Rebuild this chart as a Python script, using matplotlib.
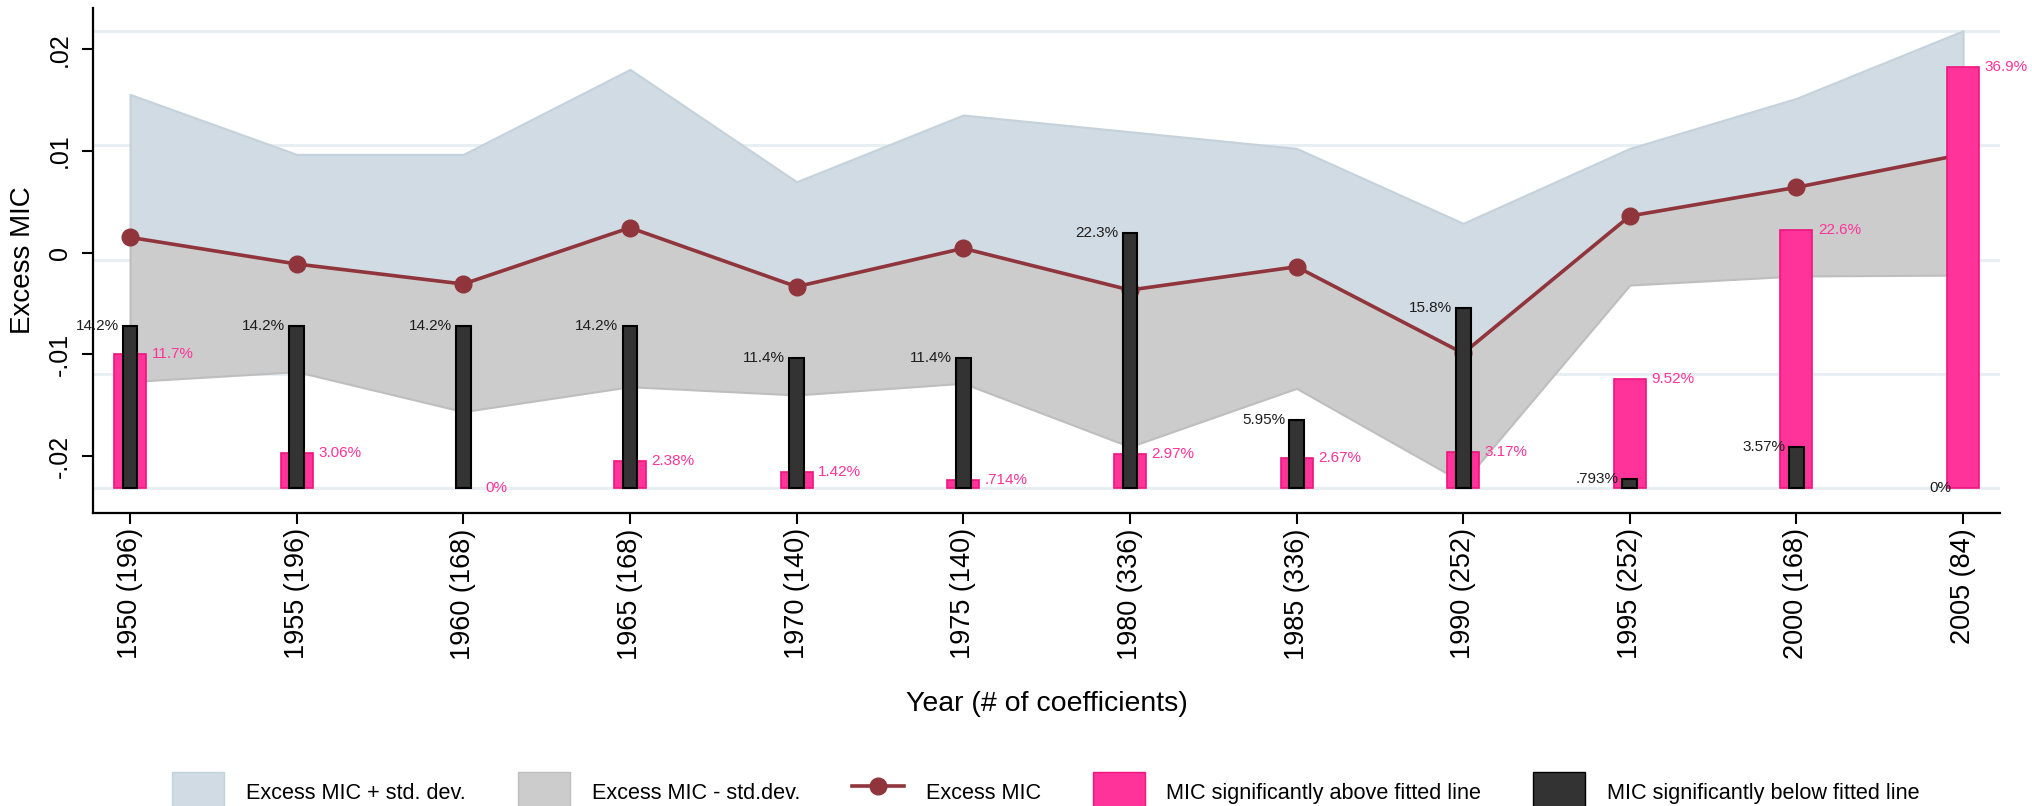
import matplotlib.pyplot as plt
from matplotlib.patches import Patch
from matplotlib.lines import Line2D
from matplotlib.transforms import blended_transform_factory

plt.rcParams['font.family'] = ['Liberation Sans', 'DejaVu Sans']

years = [1950, 1955, 1960, 1965, 1970, 1975, 1980, 1985, 1990, 1995, 2000, 2005]
n_coef = [196, 196, 168, 168, 140, 140, 336, 336, 252, 252, 168, 84]

# excess MIC and the +/- std. dev. bounds
excess = [0.00151, -0.00111, -0.00308, 0.00246, -0.00334, 0.00043,
          -0.00367, -0.00138, -0.00989, 0.00361, 0.00643, 0.00968]
upper = [0.01557, 0.00967, 0.00967, 0.01803, 0.00698, 0.01354,
         0.0119, 0.01026, 0.00289, 0.01026, 0.01518, 0.02183]
lower = [-0.01268, -0.0117, -0.01563, -0.01318, -0.01399, -0.01284,
         -0.01908, -0.01334, -0.0226, -0.00318, -0.00229, -0.0022]

# share of coefficients (in %) significantly above / below fitted line
pct_above = [11.7, 3.06, 0, 2.38, 1.42, .714, 2.97, 2.67, 3.17, 9.52, 22.6, 36.9]
pct_below = [14.2, 14.2, 14.2, 14.2, 11.4, 11.4, 22.3, 5.95, 15.8, .793, 3.57, 0]
grid_pct = [0, 10, 20, 30, 40]

yticks = [-0.02, -0.01, 0, 0.01, 0.02]
ytick_labels = ['-.02', '-.01', '0', '.01', '.02']

c_up = '#d0dbe3'
c_low = '#cccccc'
c_line = '#90353b'
c_pink = '#ff3399'
c_dark = '#333333'


def fmt(v):
    s = '%.3g' % v
    if s.startswith('0.'):
        s = s[1:]
    return s + '%'


fig = plt.figure(figsize=(20.32, 8.06), dpi=100)
ax = fig.add_axes([0.0458, 0.3635, 0.9385, 0.6265])
ax2 = ax.twinx()

trans = blended_transform_factory(ax.transAxes, ax2.transData)
for g in grid_pct:
    ax.plot([0, 1], [g, g], transform=trans, color='#e8eff2', lw=2.2, zorder=0)

ax.fill_between(years, excess, upper, facecolor=c_up, edgecolor='#c5d2dc', lw=1.5, zorder=1)
ax.fill_between(years, lower, excess, facecolor=c_low, edgecolor='#bebebe', lw=1.5, zorder=1)
ax.plot(years, excess, color=c_line, lw=2.6, marker='o', ms=12, zorder=3)

ax2.bar(years, pct_above, width=0.96, color=c_pink, edgecolor='#f0147f',
        linewidth=[1.2 if v > 0 else 0 for v in pct_above], zorder=2)
ax2.bar(years, pct_below, width=0.44, color=c_dark, edgecolor='black',
        linewidth=[1.5 if v > 0 else 0 for v in pct_below], zorder=3)

for x, v in zip(years, pct_below):
    ax2.annotate(fmt(v), xy=(x - 0.22, v), xytext=(-3, 0), textcoords='offset points',
                 ha='right', va='center', fontsize=11, color='#1e1e1e')
for x, v in zip(years, pct_above):
    ax2.annotate(fmt(v), xy=(x + 0.48, v), xytext=(4, 0), textcoords='offset points',
                 ha='left', va='center', fontsize=11, color=c_pink)

ax.set_xlim(1948.89, 2006.11)
ax.set_ylim(-0.0256, 0.02406)
ax2.set_ylim(-2.19, 42.03)

ax.set_xticks(years)
ax.set_xticklabels(['%d (%d)' % (y, n) for y, n in zip(years, n_coef)], rotation=90, fontsize=19.5)
ax.set_yticks(yticks)
ax.set_yticklabels(ytick_labels, fontsize=18)
ax.tick_params(axis='y', labelrotation=90, length=8, width=1.5, pad=7)
ax.tick_params(axis='x', length=8, width=1.5, pad=3)
for lbl in ax.get_yticklabels():
    lbl.set_va('center')

ax2.set_yticks([])
for side in ['top', 'right', 'left', 'bottom']:
    ax2.spines[side].set_visible(False)
ax.spines['top'].set_visible(False)
ax.spines['right'].set_visible(False)
ax.spines['left'].set_linewidth(1.6)
ax.spines['bottom'].set_linewidth(1.6)

ax.set_xlabel('Year (# of coefficients)', fontsize=20.5)
ax.xaxis.label.set_va('center')
ax.xaxis.set_label_coords(0.5, -0.378)
ax.set_ylabel('Excess MIC', fontsize=20)
ax.yaxis.label.set_va('center')
ax.yaxis.set_label_coords(-0.0367, 0.5)

handles = [Patch(facecolor=c_up, edgecolor='#c5d2dc'),
           Patch(facecolor=c_low, edgecolor='#bebebe'),
           Line2D([], [], color=c_line, lw=2.6, marker='o', ms=12),
           Patch(facecolor=c_pink, edgecolor='#f0147f'),
           Patch(facecolor=c_dark, edgecolor='black')]
labels = ['Excess MIC + std. dev.', 'Excess MIC - std.dev.', 'Excess MIC',
          'MIC significantly above fitted line', 'MIC significantly below fitted line']
fig.legend(handles, labels, loc='center', bbox_to_anchor=(0.5148, 0.0174), ncol=5,
           frameon=False, fontsize=15.6, handlelength=2.4, handleheight=2.4,
           handletextpad=1.0, columnspacing=2.4)

fig.savefig('out.png', dpi=100)
